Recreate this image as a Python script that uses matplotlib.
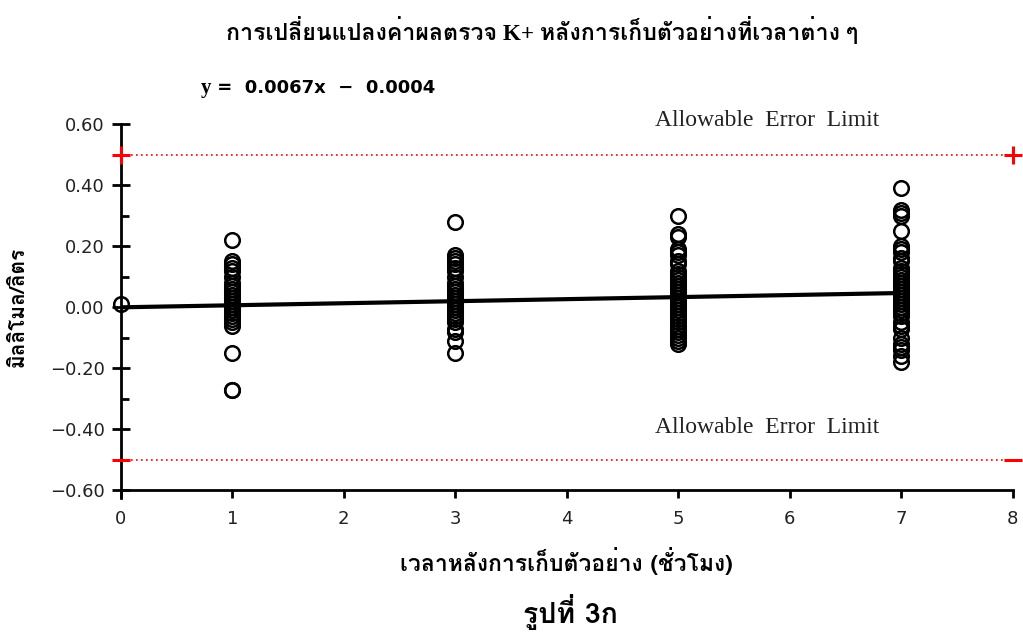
import matplotlib
matplotlib.use("Agg")
import matplotlib.pyplot as plt
from matplotlib import font_manager
from matplotlib.ft2font import FT2Font
from matplotlib.ticker import MultipleLocator

# ---------------- data ----------------
hours_0 = [0.01]
hours_1 = [0.22, 0.15, 0.14, 0.13, 0.12, 0.10, 0.08, 0.07, 0.06, 0.05, 0.04, 0.03,
           0.02, 0.01, 0.00, -0.01, -0.02, -0.03, -0.04, -0.05, -0.06, -0.15, -0.27, -0.27]
hours_3 = [0.28, 0.17, 0.16, 0.15, 0.14, 0.13, 0.12, 0.10, 0.08, 0.07, 0.06, 0.05, 0.04,
           0.03, 0.02, 0.01, 0.00, -0.01, -0.02, -0.03, -0.04, -0.05, -0.07, -0.08, -0.11, -0.15]
hours_5 = [0.30, 0.24, 0.23, 0.19, 0.18, 0.17, 0.15, 0.14, 0.12, 0.11, 0.10, 0.09, 0.08,
           0.07, 0.06, 0.05, 0.04, 0.03, 0.02, 0.01, 0.00, -0.01, -0.02, -0.03, -0.04,
           -0.05, -0.06, -0.07, -0.08, -0.09, -0.10, -0.11, -0.12]
hours_7 = [0.39, 0.32, 0.31, 0.30, 0.25, 0.20, 0.19, 0.18, 0.16, 0.15, 0.13, 0.12, 0.11,
           0.10, 0.09, 0.08, 0.07, 0.06, 0.05, 0.04, 0.03, 0.02, 0.01, 0.00, -0.01, -0.02,
           -0.03, -0.05, -0.06, -0.07, -0.10, -0.12, -0.13, -0.14, -0.16, -0.18]
time_points = [0, 1, 3, 5, 7]
series = [hours_0, hours_1, hours_3, hours_5, hours_7]
slope = 0.0067
intercept = -0.0004
fit_range = [0, 7]
limit_upper = 0.5
limit_lower = -0.5
x_ticks = [0, 1, 2, 3, 4, 5, 6, 7, 8]
y_ticks = [-0.6, -0.4, -0.2, 0.0, 0.2, 0.4, 0.6]

title = "การเปลี่ยนแปลงค่าผลตรวจ K+ หลังการเก็บตัวอย่างที่เวลาต่าง ๆ"
equation_y = "y"
equation_rest = " =  0.0067x  −  0.0004"
limit_label = "Allowable  Error  Limit"
xlabel = "เวลาหลังการเก็บตัวอย่าง (ชั่วโมง)"
ylabel = "มิลลิโมล/ลิตร"
caption = "รูปที่ 3ก"

# ---------------- fonts ----------------
thai_family = None
for f in font_manager.fontManager.ttflist:
    try:
        cmap = FT2Font(f.fname).get_charmap()
    except Exception:
        continue
    if ord("ก") in cmap:
        thai_family = f.name
        break
thai = [thai_family] if thai_family else []
fams = thai + ["DejaVu Sans"]
plt.rcParams["font.family"] = fams
serif_fams = ["Liberation Serif"] + fams
num_fams = ["DejaVu Sans"] + thai

fig = plt.figure(figsize=(10.23, 6.4), dpi=100)
ax = fig.add_axes([0.118, 0.234, 0.872, 0.572])

for t, vals in zip(time_points, series):
    ax.plot([t] * len(vals), vals, linestyle="none", marker="o", markersize=10.5,
            markerfacecolor="none", markeredgecolor="black", markeredgewidth=1.8,
            clip_on=False, zorder=3)

fx = fit_range
fy = [slope * v + intercept for v in fx]
ax.plot(fx, fy, color="black", linewidth=3, zorder=4, solid_capstyle="butt")

for lim, mk in [(limit_upper, "+"), (limit_lower, "_")]:
    ax.plot([0, 8], [lim, lim], color="red", linestyle=(0, (1, 2)), linewidth=1.2,
            zorder=2, clip_on=False)
    ax.plot([0, 8], [lim, lim], linestyle="none", marker=mk, markersize=13,
            markeredgewidth=2.2, color="red", clip_on=False, zorder=5)

ax.text(5.8, limit_upper + 0.113, limit_label, ha="center", va="center",
        fontsize=17, family=serif_fams, color="#222222")
ax.text(5.8, limit_lower + 0.107, limit_label, ha="center", va="center",
        fontsize=17, family=serif_fams, color="#222222")

ax.set_xlim(0, 8)
ax.set_ylim(-0.6, 0.6)
ax.set_xticks(x_ticks)
ax.set_xticklabels([str(v) for v in x_ticks], family=num_fams)
ax.set_yticks(y_ticks)
ax.set_yticklabels([f"{v:.2f}".replace("-", "−") for v in y_ticks], family=num_fams)
ax.yaxis.set_minor_locator(MultipleLocator(0.1))

for s in ["top", "right"]:
    ax.spines[s].set_visible(False)
for s in ["left", "bottom"]:
    ax.spines[s].set_linewidth(2)
ax.spines["left"].set_bounds(-0.625, 0.6)

ax.tick_params(axis="y", which="major", direction="inout", length=13, width=2,
               labelsize=13, pad=5, labelcolor="#222222")
ax.tick_params(axis="y", which="minor", direction="in", length=6, width=2)
ax.tick_params(axis="x", which="major", direction="out", length=6, width=2,
               labelsize=13, pad=8, labelcolor="#222222")

ax.set_xlabel(xlabel, fontsize=16.5, fontweight="bold")
ax.xaxis.set_label_coords(0.5, -0.155)
ax.set_ylabel(ylabel, fontsize=15, fontweight="bold")
ax.yaxis.set_label_coords(-0.104, 0.5)

fig.text(0.53, 0.952, title, ha="center", va="center", fontsize=16.7,
         fontweight="bold", family=serif_fams)
ty = fig.text(0.196, 0.862, equation_y, ha="left", va="center", fontsize=15,
              fontweight="bold", family=serif_fams)
fig.canvas.draw()
bb = ty.get_window_extent().transformed(fig.transFigure.inverted())
fig.text(bb.x1, 0.862, equation_rest, ha="left", va="center", fontsize=13,
         fontweight="bold", family=num_fams)
fig.text(0.558, 0.044, caption, ha="center", va="center", fontsize=20.5,
         fontweight="bold")

fig.savefig("out.png", dpi=100)
